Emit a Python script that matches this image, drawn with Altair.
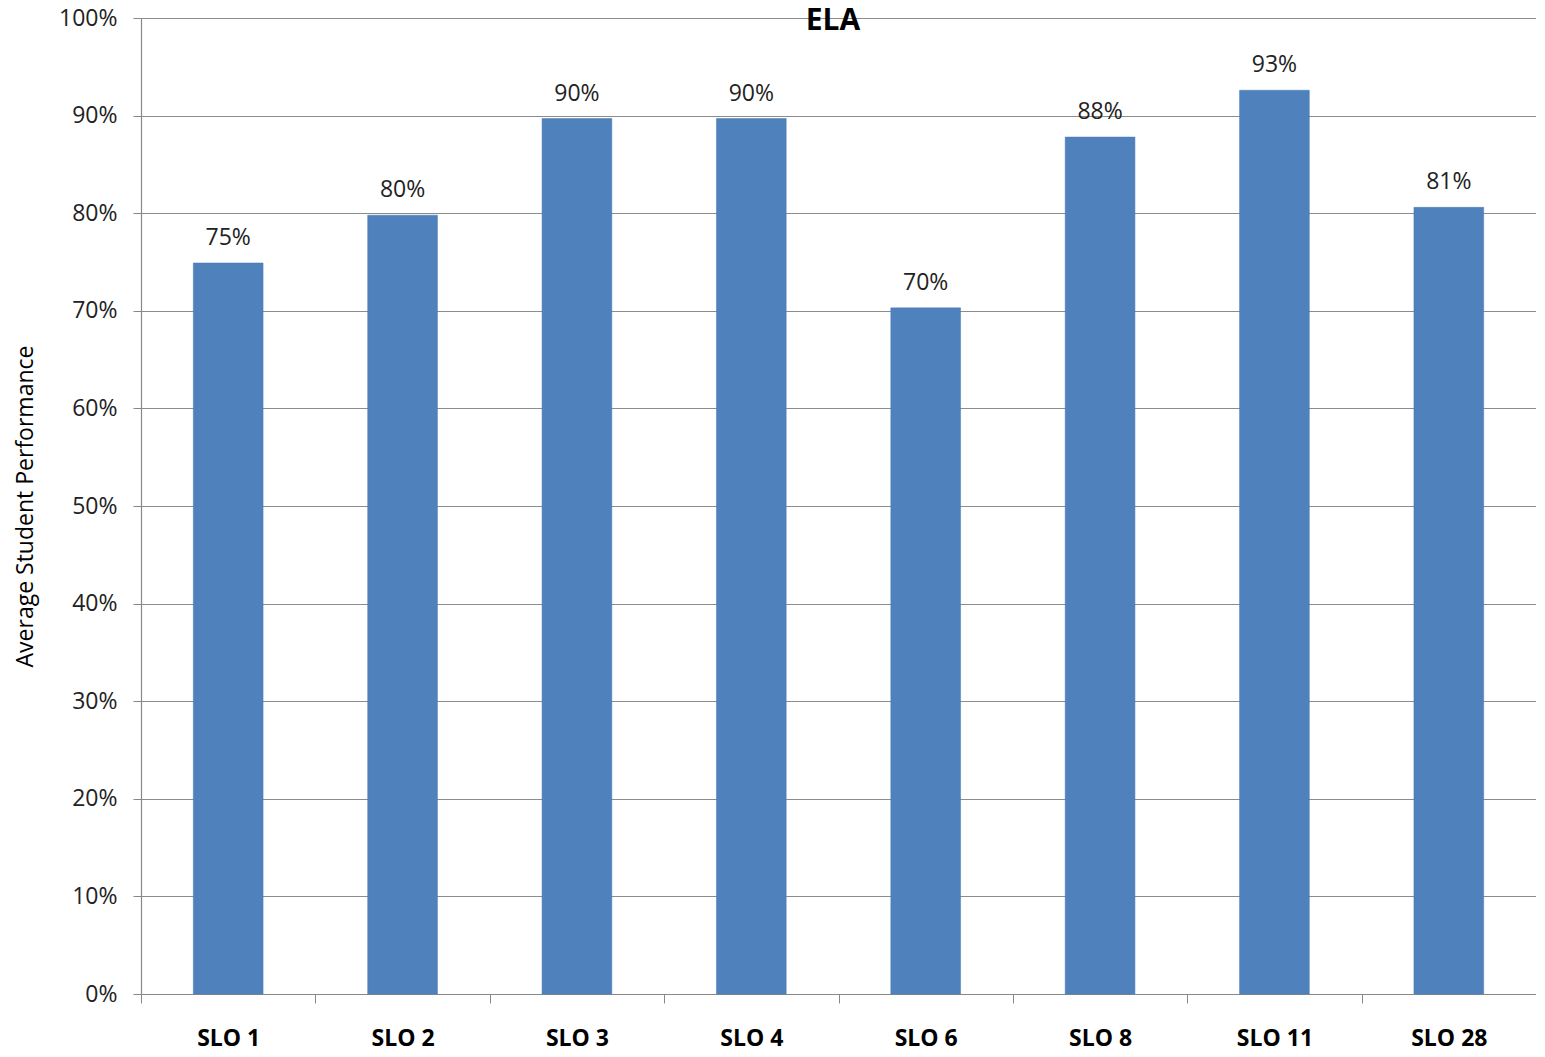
import altair as alt
import pandas as pd

categories = ["SLO 1", "SLO 2", "SLO 3", "SLO 4", "SLO 6", "SLO 8", "SLO 11", "SLO 28"]
values = [0.749, 0.798, 0.897, 0.897, 0.703, 0.878, 0.926, 0.806]
title_text = "ELA"

df = pd.DataFrame({"slo": categories, "value": values})

font = "Open Sans"

x = alt.X("slo:N", sort=categories, title=None,
          scale=alt.Scale(paddingInner=0, paddingOuter=0),
          axis=alt.Axis(labelFont=font, labelFontSize=23, labelFontWeight="bold",
                        labelColor="#000000", labelAngle=0, labelPadding=24,
                        tickBand="extent", tickSize=9, tickColor="#888888",
                        domainColor="#888888", domainWidth=1.2, grid=False))
y = alt.Y("value:Q", title="Average Student Performance",
          scale=alt.Scale(domain=[0, 1], nice=False),
          axis=alt.Axis(format=".0%", values=[i / 10 for i in range(11)],
                        labelFont=font, labelFontSize=23, labelColor="#222222",
                        labelPadding=16, tickSize=8, tickColor="#888888",
                        domainColor="#888888", domainWidth=1.2,
                        gridColor="#8c8c8c", gridWidth=1.2,
                        titleFont=font, titleFontSize=23, titleFontWeight="normal",
                        titleColor="#000000", titlePadding=21))

base = alt.Chart(df)
bars = base.mark_bar(color="#4F81BD", stroke="#4a7ab3", strokeWidth=0.5,
                     width=alt.RelativeBandSize(0.4)).encode(x=x, y=y)
labels = base.mark_text(font=font, fontSize=23, color="#222222", baseline="alphabetic", dy=-18).encode(
    x=alt.X("slo:N", sort=categories), y="value:Q", text=alt.Text("value:Q", format=".0%"))
title = alt.Chart(pd.DataFrame({"t": [title_text]})).mark_text(
    font=font, fontSize=30, fontWeight="bold", color="#000000", baseline="alphabetic").encode(
    x=alt.value(692), y=alt.value(12), text="t:N")

chart = alt.layer(bars, labels, title).properties(
    width=1395, height=976,
    autosize=alt.AutoSizeParams(type="none"),
    padding={"left": 133, "top": 10, "right": 0, "bottom": 58},
).configure_view(stroke=None)

chart.save("out.html", embed_options={"renderer": "svg", "actions": False})
